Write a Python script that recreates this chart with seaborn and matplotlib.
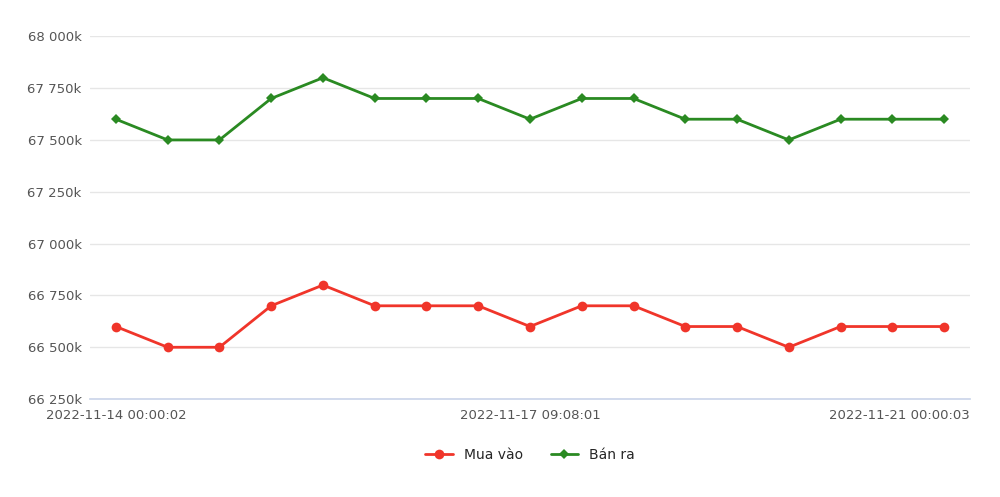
import matplotlib
matplotlib.use("Agg")
import matplotlib.pyplot as plt
import seaborn as sns
import pandas as pd
from matplotlib.ticker import FuncFormatter

buy = [66600,66500,66500,66700,66800,66700,66700,66700,66600,66700,66700,66600,66600,66500,66600,66600,66600]
sell = [67600,67500,67500,67700,67800,67700,67700,67700,67600,67700,67700,67600,67600,67500,67600,67600,67600]
tick_pos = [0, 8, 16]
tick_labels = ["2022-11-14 00:00:02", "2022-11-17 09:08:01", "2022-11-21 00:00:03"]

sns.set_theme(style="white")
plt.rcParams['font.family'] = ['DejaVu Sans']
df = pd.DataFrame({"i": list(range(len(buy))), "Mua vào": buy, "Bán ra": sell})

fig = plt.figure(figsize=(10, 4.97), dpi=100)
ax = fig.add_axes([0.09, 0.197, 0.88, 0.73])
sns.lineplot(data=df, x="i", y="Mua vào", ax=ax, color="#f0352a", marker="o", markersize=7,
             markeredgewidth=0, linewidth=2, label="Mua vào")
sns.lineplot(data=df, x="i", y="Bán ra", ax=ax, color="#2a8a22", marker="D", markersize=5,
             markeredgewidth=0, linewidth=2, label="Bán ra")
ax.set_ylim(66250, 68000)
ax.set_yticks(range(66250, 68001, 250))
ax.yaxis.set_major_formatter(FuncFormatter(lambda v, p: f"{int(v)//1000} {int(v)%1000:03d}k"))
ax.set_xlim(-0.5, 16.5)
ax.set_xticks(tick_pos)
ax.set_xticklabels(tick_labels)
ax.set_xlabel(""); ax.set_ylabel("")
ax.grid(axis="y", color="#e6e6e6", linewidth=1)
for s in ["top", "right", "left"]:
    ax.spines[s].set_visible(False)
ax.spines["bottom"].set_color("#ccd6eb")
ax.tick_params(axis="y", colors="#555555", labelsize=9.5, length=0, pad=6)
ax.tick_params(axis="x", colors="#555555", labelsize=9.5, length=0, pad=7)
lab = ax.get_xticklabels()
lab[-1].set_horizontalalignment("right")
from matplotlib.transforms import ScaledTranslation
lab[-1].set_transform(lab[-1].get_transform() + ScaledTranslation(0.26, 0, fig.dpi_scale_trans))
ax.legend(loc="upper center", bbox_to_anchor=(0.5, -0.1), ncol=2, frameon=False, fontsize=10)
fig.savefig("out.png")
